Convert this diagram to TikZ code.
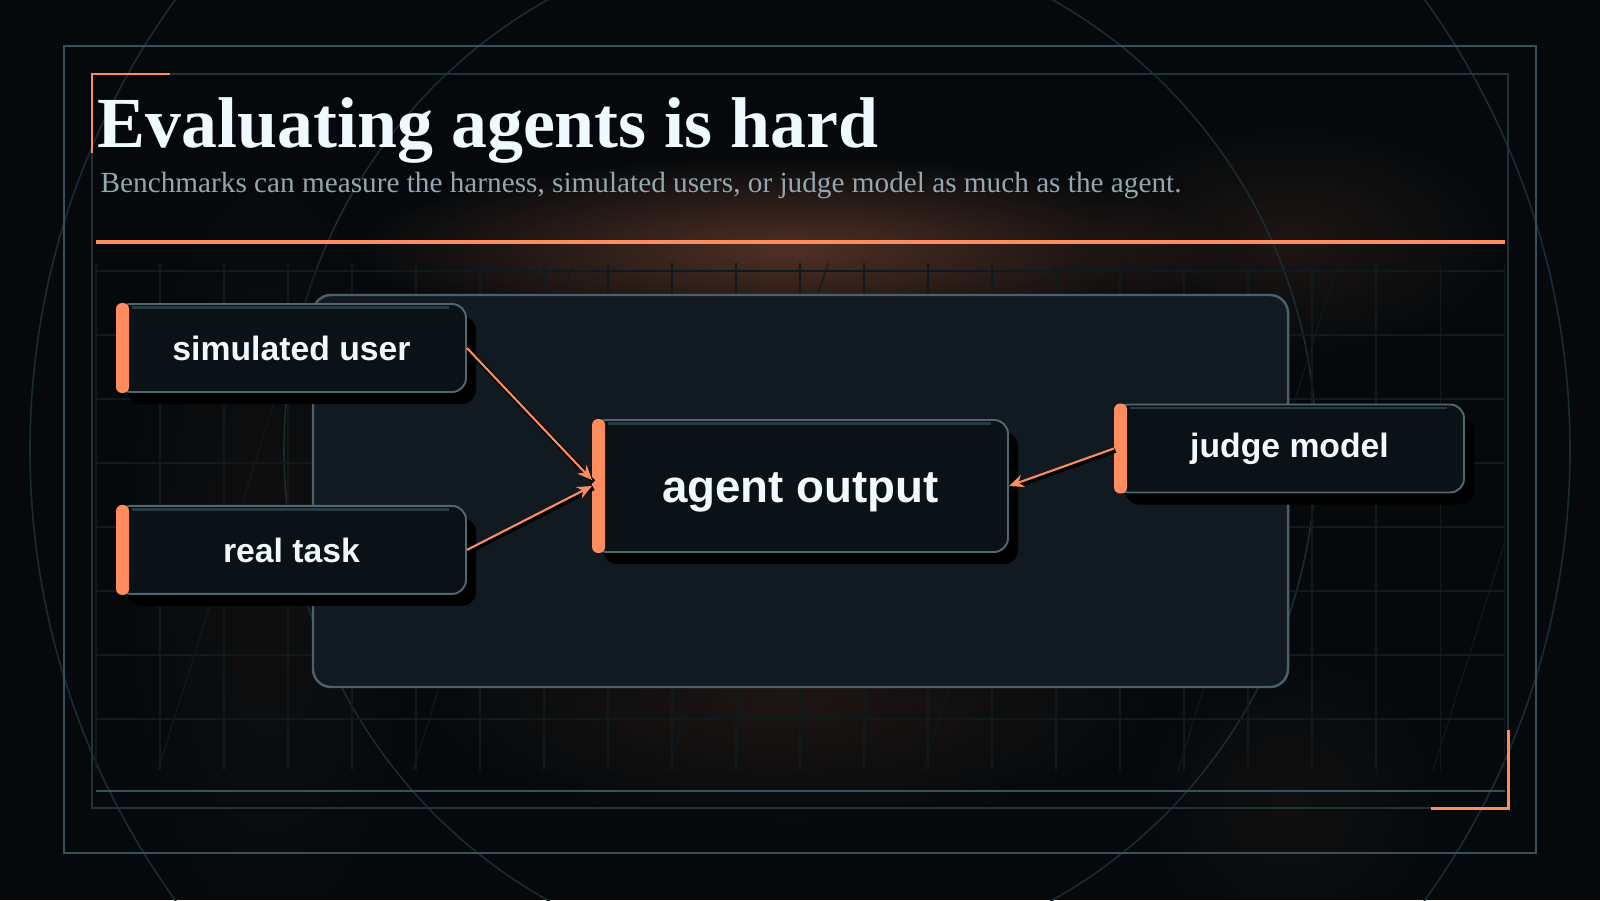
\documentclass[tikz,border=0pt]{standalone}
\usepackage{fontspec}
\setmainfont{Liberation Serif}
\newfontfamily\cardfont{Liberation Sans}
\usetikzlibrary{positioning}
\usetikzlibrary{arrows.meta}
\usetikzlibrary{shadows}
\usetikzlibrary{fadings}
\usepackage{xcolor}

\definecolor{bgdark}{HTML}{05090C}
\definecolor{accent}{HTML}{FF8C5E}
\definecolor{frameline}{HTML}{3A4F59}
\definecolor{framedim}{HTML}{22323A}
\definecolor{gridline}{HTML}{0F191E}
\definecolor{ringline}{HTML}{1A2B33}
\definecolor{panelfill}{HTML}{121A21}
\definecolor{panelline}{HTML}{4B606B}
\definecolor{cardfill}{HTML}{0B1215}
\definecolor{cardline}{HTML}{52666F}
\definecolor{cardhi}{HTML}{2A3A42}
\definecolor{ink}{HTML}{EFFAFE}
\definecolor{subink}{HTML}{94A7B1}

\tikzfading[name=glowfade, inner color=transparent!0, outer color=transparent!100]

\tikzset{
  card/.style={draw=cardline, fill=cardfill, line width=0.55pt, rounded corners=0.14cm,
    minimum width=3.49cm, minimum height=0.88cm, inner sep=0pt, text=ink,
    font=\cardfont\bfseries\fontsize{9.6}{11}\selectfont,
    drop shadow={shadow xshift=0.1cm, shadow yshift=-0.12cm, fill=black, opacity=1}},
  feed/.style={accent, line width=0.6pt, -{Stealth[length=4.2pt,width=3.6pt]},
    preaction={draw=black, line width=1.3pt, -, transform canvas={shift={(0.015,-0.02)}}}},
  glow/.style={fill=accent, path fading=glowfade},
}

\begin{document}
\begin{tikzpicture}

\useasboundingbox (0,0) rectangle (16,9);
\fill[bgdark] (0,0) rectangle (16,9);

% soft glows
\fill[glow, opacity=0.30] (7.9,6.5) ellipse (4.4 and 0.95);
\fill[glow, opacity=0.10] (7.9,2.0) ellipse (3.8 and 1.3);
\fill[glow, opacity=0.10] (12.9,6.6) ellipse (2.2 and 1.2);
\fill[glow, opacity=0.05] (2.7,3.4) ellipse (1.6 and 4.2);
\fill[glow, opacity=0.05] (12.9,1.0) ellipse (1.6 and 1.6);

% rings
\draw[ringline, line width=0.45pt] (8,4.5) circle (7.7);
\draw[ringline, line width=0.45pt] (8,4.5) circle (5.16);

% grid
\foreach \x in {0,...,22}
  \draw[gridline, line width=0.3pt] ({0.96+0.64*\x},1.30) -- ({0.96+0.64*\x},6.37);
\foreach \y in {0,...,7}
  \draw[gridline, line width=0.3pt] (0.96,{6.29-0.64*\y}) -- (15.04,{6.29-0.64*\y});
\begin{scope}
  \clip (0.96,1.30) rectangle (15.04,6.37);
  \foreach \x in {0.63,3.18,5.73,8.28,10.83,13.38,15.93}
    \draw[gridline, line width=0.3pt] (\x,6.37) -- ({\x-1.6},1.30);
\end{scope}

% frames
\draw[frameline, line width=0.6pt] (0.64,0.47) rectangle (15.36,8.54);
\draw[framedim, line width=0.5pt] (0.92,0.92) rectangle (15.08,8.26);
\draw[frameline, line width=0.5pt] (0.96,1.09) -- (15.05,1.09);
\draw[accent, line width=0.85pt] (0.92,7.47) -- (0.92,8.26) -- (1.70,8.26);
\draw[accent, line width=0.85pt] (14.31,0.92) -- (15.08,0.92) -- (15.08,1.70);

% heading
\node[anchor=base west, inner sep=0pt, text=ink, font=\bfseries\fontsize{20.45}{24}\selectfont] (title) at (0.97,7.53) {Evaluating agents is hard};
\node[anchor=base west, inner sep=0pt, text=subink, font=\fontsize{8.32}{10}\selectfont] (subtitle) at (1.00,7.08) {Benchmarks can measure the harness, simulated users, or judge model as much as the agent.};
\draw[accent, line width=1.1pt] (0.96,6.58) -- (15.05,6.58);

% panel
\draw[panelline, fill=panelfill, line width=0.7pt, rounded corners=0.18cm] (3.13,2.13) rectangle (12.88,6.05);

% cards
\node[card] (simuser) at (2.915,5.52) {simulated user};
\node[card, below=1.12cm of simuser] (realtask) {real task};
\node[card, minimum width=4.15cm, minimum height=1.32cm, font=\cardfont\bfseries\fontsize{13}{15}\selectfont] (agentout) at (8.005,4.14) {\smash{\raisebox{-0.16cm}{agent output}}};
\node[card] (judge) at (12.895,4.515) {judge model};

\foreach \n in {simuser,realtask,agentout,judge} {
  \draw[cardhi, line width=0.6pt] ([xshift=0.16cm,yshift=-0.045cm]\n.north west) -- ([xshift=-0.18cm,yshift=-0.045cm]\n.north east);
  \fill[accent, rounded corners=0.06cm] (\n.north west) rectangle ([xshift=0.13cm]\n.south west);
}

% arrows
\draw[feed] (simuser.east) -- ([yshift=0.06cm]agentout.west);
\draw[feed] (realtask.east) -- (agentout.west);
\draw[feed] (judge.west) -- (agentout.east);

\end{tikzpicture}
\end{document}
